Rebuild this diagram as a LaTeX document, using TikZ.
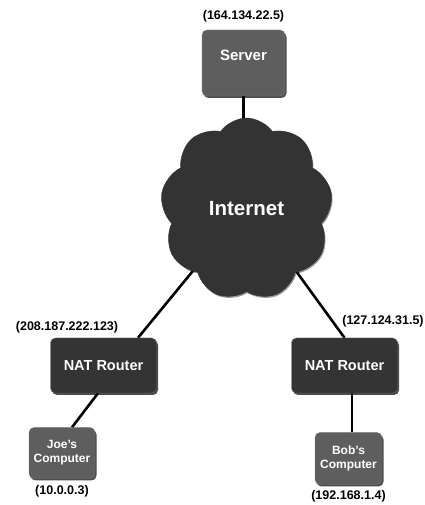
\documentclass[tikz,border=0pt]{standalone}
\usepackage{fontspec}
\setsansfont{Liberation Sans}
\usepackage{xcolor}
\usepackage{tikz}
\usetikzlibrary{positioning,calc,shapes.symbols,shadows,backgrounds}
\definecolor{cHost}{HTML}{5E5E5E}
\definecolor{cNat}{HTML}{343434}
\definecolor{cNet}{HTML}{333333}
\definecolor{cLink}{HTML}{000000}
\tikzset{
  host/.style ={draw=cHost!80!white, rounded corners=5pt, fill=cHost, text=white, align=center,
                font=\sffamily\bfseries\fontsize{12}{14}\selectfont, inner sep=0pt,
                drop shadow={shadow xshift=1.5pt, shadow yshift=-2pt, opacity=0.7, fill=black}},
  nat/.style  ={draw=cNat!80!white, rounded corners=5pt, fill=cNat, text=white, align=center,
                font=\sffamily\bfseries\fontsize{14.5}{16}\selectfont, inner sep=0pt,
                minimum width=106pt, minimum height=55pt,
                drop shadow={shadow xshift=1.5pt, shadow yshift=-2pt, opacity=0.7, fill=black}},
  net/.style  ={cloud, cloud puffs=9, cloud puff arc=110, cloud ignores aspect,
                fill=cNet, draw=cNet, text=white, inner sep=0pt,
                font=\sffamily\bfseries\fontsize{20.5}{22}\selectfont,
                drop shadow={shadow xshift=1pt, shadow yshift=-1.5pt, opacity=0.4, fill=black}},
  ip/.style   ={font=\sffamily\bfseries\fontsize{12.5}{14}\selectfont, inner sep=0pt},
  link/.style ={draw=cLink, line width=2.6pt},
}
\begin{document}
\begin{tikzpicture}[x=1pt, y=1pt]
  \useasboundingbox (0,0) rectangle (424,505);
  % hosts and routers
  \node[host, font=\sffamily\bfseries\fontsize{15}{17}\selectfont,
        minimum width=83pt, minimum height=66pt, text depth=16pt] (server) at (243.5,442) {Server};
  \node[net, minimum width=172pt, minimum height=182pt] (cloud) at (246.5,296) {Internet};
  \node[nat] (natL) at (103.5,139.5) {NAT Router};
  \node[nat] (natR) at (344.5,139.5) {NAT Router};
  \node[host, minimum width=66pt, minimum height=51pt] (joe) at (62,52) {Joe's\\Computer};
  \node[host, minimum width=67pt, minimum height=52pt] (bob) at (348.5,46.5) {Bob's\\Computer};
  % addresses
  \node[ip, above=7pt of server] (serverip) {(164.134.22.5)};
  \node[ip] (natLip) at (67,178) {(208.187.222.123)};
  \node[ip] (natRip) at (383,184) {(127.124.31.5)};
  \node[ip, below=7pt of joe] (joeip) {(10.0.0.3)};
  \node[ip, below=6pt of bob] (bobip) {(192.168.1.4)};
  % links
  \begin{scope}[on background layer]
    \draw[link] (server) -- (server |- cloud);
    \draw[link] ($(natL.north)+(34.5,0)$) -- ($(cloud.center)+(-52,-60)$);
    \draw[link] (natR.north) -- ($(cloud.center)+(48,-60)$);
    \draw[link] ($(natL.south)+(-5.5,0)$) -- ($(joe.north)+(10,0)$);
    \draw[link] ($(bob.north)+(3.5,0)$) -- ($(natR.south)+(7.5,0)$);
  \end{scope}
\end{tikzpicture}
\end{document}
